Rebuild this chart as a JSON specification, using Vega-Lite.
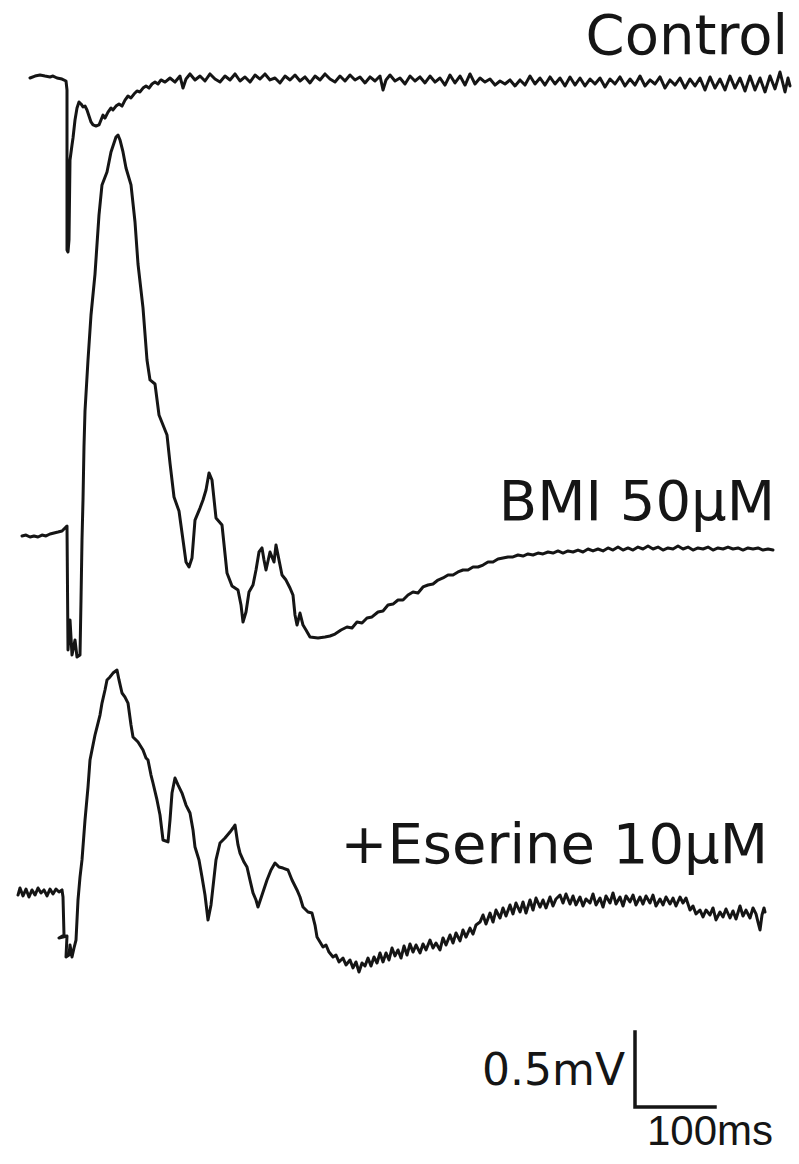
{
"$schema": "https://vega.github.io/schema/vega-lite/v6.json",
"width": 799, "height": 1164,
"autosize": {"type": "fit", "contains": "padding"},
"padding": 0,
"background": "white",
"config": {"view": {"stroke": null}},
"datasets": {
"traces": [
{"trace":"Control","ms":37.5,"mV":7.24},{"trace":"Control","ms":43.75,"mV":7.253},{"trace":"Control","ms":50,"mV":7.26},{"trace":"Control","ms":56.25,"mV":7.253},{"trace":"Control","ms":62.5,"mV":7.247},{"trace":"Control","ms":66.25,"mV":7.253},{"trace":"Control","ms":71.25,"mV":7.24},{"trace":"Control","ms":77.5,"mV":7.233},{"trace":"Control","ms":82.5,"mV":7.22},{"trace":"Control","ms":83.75,"mV":7.16},{"trace":"Control","ms":83.75,"mV":6.093},{"trace":"Control","ms":85,"mV":6.08},{"trace":"Control","ms":86.25,"mV":6.16},{"trace":"Control","ms":87.5,"mV":6.693},{"trace":"Control","ms":90,"mV":6.793},{"trace":"Control","ms":91.25,"mV":6.84},{"trace":"Control","ms":93.75,"mV":6.96},{"trace":"Control","ms":96.25,"mV":7.04},{"trace":"Control","ms":98.75,"mV":7.08},{"trace":"Control","ms":101.25,"mV":7.067},{"trace":"Control","ms":103.75,"mV":7.047},{"trace":"Control","ms":106.25,"mV":7.053},{"trace":"Control","ms":108.75,"mV":7.027},{"trace":"Control","ms":111.25,"mV":6.987},{"trace":"Control","ms":113.75,"mV":6.947},{"trace":"Control","ms":116.25,"mV":6.927},{"trace":"Control","ms":120,"mV":6.92},{"trace":"Control","ms":123.75,"mV":6.927},{"trace":"Control","ms":126.25,"mV":6.96},{"trace":"Control","ms":128.75,"mV":6.993},{"trace":"Control","ms":131.25,"mV":6.973},{"trace":"Control","ms":135,"mV":7.013},{"trace":"Control","ms":138.75,"mV":7.04},{"trace":"Control","ms":141.25,"mV":7.027},{"trace":"Control","ms":145,"mV":7.053},{"trace":"Control","ms":148.75,"mV":7.067},{"trace":"Control","ms":152.5,"mV":7.053},{"trace":"Control","ms":156.25,"mV":7.093},{"trace":"Control","ms":160,"mV":7.12},{"trace":"Control","ms":163.75,"mV":7.107},{"trace":"Control","ms":167.5,"mV":7.133},{"trace":"Control","ms":171.25,"mV":7.153},{"trace":"Control","ms":175,"mV":7.147},{"trace":"Control","ms":178.75,"mV":7.173},{"trace":"Control","ms":182.5,"mV":7.187},{"trace":"Control","ms":186.25,"mV":7.173},{"trace":"Control","ms":190,"mV":7.2},{"trace":"Control","ms":193.75,"mV":7.213},{"trace":"Control","ms":197.5,"mV":7.2},{"trace":"Control","ms":201.25,"mV":7.227},{"trace":"Control","ms":206.25,"mV":7.213},{"trace":"Control","ms":212.5,"mV":7.24},{"trace":"Control","ms":218.75,"mV":7.213},{"trace":"Control","ms":225,"mV":7.253},{"trace":"Control","ms":228.75,"mV":7.173},{"trace":"Control","ms":232.5,"mV":7.233},{"trace":"Control","ms":237.5,"mV":7.267},{"trace":"Control","ms":243.75,"mV":7.227},{"trace":"Control","ms":250,"mV":7.253},{"trace":"Control","ms":256.25,"mV":7.22},{"trace":"Control","ms":262.5,"mV":7.267},{"trace":"Control","ms":268.75,"mV":7.233},{"trace":"Control","ms":275,"mV":7.213},{"trace":"Control","ms":281.25,"mV":7.253},{"trace":"Control","ms":287.5,"mV":7.227},{"trace":"Control","ms":293.75,"mV":7.267},{"trace":"Control","ms":300,"mV":7.22},{"trace":"Control","ms":306.25,"mV":7.247},{"trace":"Control","ms":312.5,"mV":7.213},{"trace":"Control","ms":318.75,"mV":7.26},{"trace":"Control","ms":325,"mV":7.233},{"trace":"Control","ms":331.25,"mV":7.267},{"trace":"Control","ms":337.5,"mV":7.227},{"trace":"Control","ms":343.75,"mV":7.24},{"trace":"Control","ms":350,"mV":7.207},{"trace":"Control","ms":356.25,"mV":7.253},{"trace":"Control","ms":362.5,"mV":7.227},{"trace":"Control","ms":368.75,"mV":7.26},{"trace":"Control","ms":375,"mV":7.22},{"trace":"Control","ms":381.25,"mV":7.247},{"trace":"Control","ms":387.5,"mV":7.207},{"trace":"Control","ms":393.75,"mV":7.253},{"trace":"Control","ms":400,"mV":7.227},{"trace":"Control","ms":406.25,"mV":7.267},{"trace":"Control","ms":412.5,"mV":7.233},{"trace":"Control","ms":418.75,"mV":7.213},{"trace":"Control","ms":425,"mV":7.253},{"trace":"Control","ms":431.25,"mV":7.22},{"trace":"Control","ms":437.5,"mV":7.26},{"trace":"Control","ms":443.75,"mV":7.227},{"trace":"Control","ms":450,"mV":7.247},{"trace":"Control","ms":456.25,"mV":7.207},{"trace":"Control","ms":462.5,"mV":7.247},{"trace":"Control","ms":468.75,"mV":7.22},{"trace":"Control","ms":475,"mV":7.253},{"trace":"Control","ms":478.75,"mV":7.16},{"trace":"Control","ms":482.5,"mV":7.227},{"trace":"Control","ms":487.5,"mV":7.26},{"trace":"Control","ms":493.75,"mV":7.22},{"trace":"Control","ms":500,"mV":7.24},{"trace":"Control","ms":506.25,"mV":7.2},{"trace":"Control","ms":512.5,"mV":7.253},{"trace":"Control","ms":518.75,"mV":7.22},{"trace":"Control","ms":525,"mV":7.247},{"trace":"Control","ms":531.25,"mV":7.207},{"trace":"Control","ms":537.5,"mV":7.253},{"trace":"Control","ms":543.75,"mV":7.213},{"trace":"Control","ms":550,"mV":7.24},{"trace":"Control","ms":556.25,"mV":7.193},{"trace":"Control","ms":562.5,"mV":7.26},{"trace":"Control","ms":568.75,"mV":7.207},{"trace":"Control","ms":575,"mV":7.253},{"trace":"Control","ms":581.25,"mV":7.193},{"trace":"Control","ms":587.5,"mV":7.267},{"trace":"Control","ms":593.75,"mV":7.2},{"trace":"Control","ms":600,"mV":7.24},{"trace":"Control","ms":606.25,"mV":7.213},{"trace":"Control","ms":612.5,"mV":7.233},{"trace":"Control","ms":618.75,"mV":7.193},{"trace":"Control","ms":625,"mV":7.22},{"trace":"Control","ms":631.25,"mV":7.2},{"trace":"Control","ms":637.5,"mV":7.227},{"trace":"Control","ms":643.75,"mV":7.187},{"trace":"Control","ms":650,"mV":7.227},{"trace":"Control","ms":656.25,"mV":7.193},{"trace":"Control","ms":662.5,"mV":7.253},{"trace":"Control","ms":668.75,"mV":7.2},{"trace":"Control","ms":675,"mV":7.24},{"trace":"Control","ms":681.25,"mV":7.193},{"trace":"Control","ms":687.5,"mV":7.247},{"trace":"Control","ms":693.75,"mV":7.2},{"trace":"Control","ms":700,"mV":7.24},{"trace":"Control","ms":706.25,"mV":7.187},{"trace":"Control","ms":712.5,"mV":7.247},{"trace":"Control","ms":718.75,"mV":7.193},{"trace":"Control","ms":725,"mV":7.24},{"trace":"Control","ms":731.25,"mV":7.187},{"trace":"Control","ms":737.5,"mV":7.233},{"trace":"Control","ms":743.75,"mV":7.2},{"trace":"Control","ms":750,"mV":7.24},{"trace":"Control","ms":756.25,"mV":7.18},{"trace":"Control","ms":762.5,"mV":7.233},{"trace":"Control","ms":768.75,"mV":7.2},{"trace":"Control","ms":775,"mV":7.247},{"trace":"Control","ms":781.25,"mV":7.187},{"trace":"Control","ms":787.5,"mV":7.233},{"trace":"Control","ms":793.75,"mV":7.193},{"trace":"Control","ms":800,"mV":7.253},{"trace":"Control","ms":806.25,"mV":7.187},{"trace":"Control","ms":812.5,"mV":7.227},{"trace":"Control","ms":818.75,"mV":7.2},{"trace":"Control","ms":825,"mV":7.247},{"trace":"Control","ms":831.25,"mV":7.173},{"trace":"Control","ms":837.5,"mV":7.227},{"trace":"Control","ms":843.75,"mV":7.193},{"trace":"Control","ms":850,"mV":7.24},{"trace":"Control","ms":856.25,"mV":7.173},{"trace":"Control","ms":862.5,"mV":7.233},{"trace":"Control","ms":868.75,"mV":7.187},{"trace":"Control","ms":875,"mV":7.24},{"trace":"Control","ms":881.25,"mV":7.16},{"trace":"Control","ms":887.5,"mV":7.247},{"trace":"Control","ms":893.75,"mV":7.173},{"trace":"Control","ms":900,"mV":7.233},{"trace":"Control","ms":906.25,"mV":7.16},{"trace":"Control","ms":912.5,"mV":7.253},{"trace":"Control","ms":918.75,"mV":7.173},{"trace":"Control","ms":925,"mV":7.24},{"trace":"Control","ms":931.25,"mV":7.153},{"trace":"Control","ms":937.5,"mV":7.253},{"trace":"Control","ms":943.75,"mV":7.16},{"trace":"Control","ms":950,"mV":7.24},{"trace":"Control","ms":956.25,"mV":7.147},{"trace":"Control","ms":962.5,"mV":7.253},{"trace":"Control","ms":968.75,"mV":7.167},{"trace":"Control","ms":975,"mV":7.28},{"trace":"Control","ms":981.25,"mV":7.147},{"trace":"Control","ms":985,"mV":7.24},{"trace":"Control","ms":987.5,"mV":7.187},
{"trace":"BMI","ms":27.5,"mV":4.187},{"trace":"BMI","ms":32.5,"mV":4.193},{"trace":"BMI","ms":37.5,"mV":4.18},{"trace":"BMI","ms":42.5,"mV":4.187},{"trace":"BMI","ms":47.5,"mV":4.18},{"trace":"BMI","ms":52.5,"mV":4.193},{"trace":"BMI","ms":57.5,"mV":4.187},{"trace":"BMI","ms":62.5,"mV":4.2},{"trace":"BMI","ms":67.5,"mV":4.207},{"trace":"BMI","ms":72.5,"mV":4.213},{"trace":"BMI","ms":77.5,"mV":4.22},{"trace":"BMI","ms":82.5,"mV":4.247},{"trace":"BMI","ms":83.75,"mV":4.253},{"trace":"BMI","ms":85,"mV":3.427},{"trace":"BMI","ms":87.5,"mV":3.627},{"trace":"BMI","ms":90,"mV":3.393},{"trace":"BMI","ms":93.75,"mV":3.493},{"trace":"BMI","ms":96.25,"mV":3.38},{"trace":"BMI","ms":100,"mV":3.393},{"trace":"BMI","ms":101.25,"mV":3.76},{"trace":"BMI","ms":102.5,"mV":4.16},{"trace":"BMI","ms":103.75,"mV":4.427},{"trace":"BMI","ms":105,"mV":4.787},{"trace":"BMI","ms":106.25,"mV":5.02},{"trace":"BMI","ms":110,"mV":5.36},{"trace":"BMI","ms":113.75,"mV":5.66},{"trace":"BMI","ms":118.75,"mV":5.933},{"trace":"BMI","ms":123.75,"mV":6.327},{"trace":"BMI","ms":127.5,"mV":6.527},{"trace":"BMI","ms":133.75,"mV":6.613},{"trace":"BMI","ms":138.75,"mV":6.747},{"trace":"BMI","ms":145,"mV":6.847},{"trace":"BMI","ms":147.5,"mV":6.86},{"trace":"BMI","ms":150,"mV":6.827},{"trace":"BMI","ms":153.75,"mV":6.747},{"trace":"BMI","ms":157.5,"mV":6.64},{"trace":"BMI","ms":163.75,"mV":6.527},{"trace":"BMI","ms":168.75,"mV":6.28},{"trace":"BMI","ms":172.5,"mV":6.0},{"trace":"BMI","ms":178.75,"mV":5.707},{"trace":"BMI","ms":183.75,"mV":5.36},{"trace":"BMI","ms":187.5,"mV":5.227},{"trace":"BMI","ms":193.75,"mV":5.2},{"trace":"BMI","ms":198.75,"mV":4.993},{"trace":"BMI","ms":203.75,"mV":4.927},{"trace":"BMI","ms":208.75,"mV":4.86},{"trace":"BMI","ms":212.5,"mV":4.673},{"trace":"BMI","ms":217.5,"mV":4.447},{"trace":"BMI","ms":223.75,"mV":4.353},{"trace":"BMI","ms":228.75,"mV":4.16},{"trace":"BMI","ms":232.5,"mV":4.013},{"trace":"BMI","ms":236.25,"mV":3.98},{"trace":"BMI","ms":240,"mV":4.04},{"trace":"BMI","ms":243.75,"mV":4.293},{"trace":"BMI","ms":250,"mV":4.373},{"trace":"BMI","ms":253.75,"mV":4.427},{"trace":"BMI","ms":257.5,"mV":4.493},{"trace":"BMI","ms":261.25,"mV":4.607},{"trace":"BMI","ms":265,"mV":4.56},{"trace":"BMI","ms":270,"mV":4.307},{"trace":"BMI","ms":277.5,"mV":4.26},{"trace":"BMI","ms":283.75,"mV":3.94},{"trace":"BMI","ms":290,"mV":3.853},{"trace":"BMI","ms":297.5,"mV":3.827},{"trace":"BMI","ms":301.25,"mV":3.727},{"trace":"BMI","ms":303.75,"mV":3.613},{"trace":"BMI","ms":307.5,"mV":3.68},{"trace":"BMI","ms":311.25,"mV":3.813},{"trace":"BMI","ms":316.25,"mV":3.86},{"trace":"BMI","ms":320,"mV":3.96},{"trace":"BMI","ms":323.75,"mV":4.08},{"trace":"BMI","ms":327.5,"mV":4.107},{"trace":"BMI","ms":330,"mV":4.027},{"trace":"BMI","ms":332.5,"mV":3.96},{"trace":"BMI","ms":337.5,"mV":4.08},{"trace":"BMI","ms":342.5,"mV":4.013},{"trace":"BMI","ms":345,"mV":4.127},{"trace":"BMI","ms":348.75,"mV":4.027},{"trace":"BMI","ms":352.5,"mV":3.927},{"trace":"BMI","ms":357.5,"mV":3.893},{"trace":"BMI","ms":362.5,"mV":3.84},{"trace":"BMI","ms":366.25,"mV":3.793},{"trace":"BMI","ms":368.75,"mV":3.66},{"trace":"BMI","ms":371.25,"mV":3.593},{"trace":"BMI","ms":375,"mV":3.673},{"trace":"BMI","ms":378.75,"mV":3.593},{"trace":"BMI","ms":382.5,"mV":3.56},{"trace":"BMI","ms":387.5,"mV":3.513},{"trace":"BMI","ms":397.5,"mV":3.507},{"trace":"BMI","ms":406.25,"mV":3.513},{"trace":"BMI","ms":412.5,"mV":3.52},{"trace":"BMI","ms":418.75,"mV":3.533},{"trace":"BMI","ms":426.25,"mV":3.56},{"trace":"BMI","ms":433.75,"mV":3.58},{"trace":"BMI","ms":440,"mV":3.573},{"trace":"BMI","ms":446.25,"mV":3.613},{"trace":"BMI","ms":452.5,"mV":3.607},{"trace":"BMI","ms":458.75,"mV":3.64},{"trace":"BMI","ms":465,"mV":3.647},{"trace":"BMI","ms":472.5,"mV":3.68},{"trace":"BMI","ms":478.75,"mV":3.687},{"trace":"BMI","ms":485,"mV":3.727},{"trace":"BMI","ms":491.25,"mV":3.733},{"trace":"BMI","ms":497.5,"mV":3.76},{"trace":"BMI","ms":503.75,"mV":3.76},{"trace":"BMI","ms":510,"mV":3.793},{"trace":"BMI","ms":516.25,"mV":3.813},{"trace":"BMI","ms":522.5,"mV":3.807},{"trace":"BMI","ms":528.75,"mV":3.847},{"trace":"BMI","ms":535,"mV":3.86},{"trace":"BMI","ms":541.25,"mV":3.867},{"trace":"BMI","ms":547.5,"mV":3.893},{"trace":"BMI","ms":553.75,"mV":3.907},{"trace":"BMI","ms":560,"mV":3.927},{"trace":"BMI","ms":566.25,"mV":3.927},{"trace":"BMI","ms":572.5,"mV":3.947},{"trace":"BMI","ms":578.75,"mV":3.96},{"trace":"BMI","ms":585,"mV":3.96},{"trace":"BMI","ms":591.25,"mV":3.98},{"trace":"BMI","ms":597.5,"mV":3.98},{"trace":"BMI","ms":603.75,"mV":3.993},{"trace":"BMI","ms":610,"mV":4.013},{"trace":"BMI","ms":616.25,"mV":4.013},{"trace":"BMI","ms":622.5,"mV":4.033},{"trace":"BMI","ms":628.75,"mV":4.04},{"trace":"BMI","ms":635,"mV":4.047},{"trace":"BMI","ms":641.25,"mV":4.047},{"trace":"BMI","ms":647.5,"mV":4.06},{"trace":"BMI","ms":653.75,"mV":4.053},{"trace":"BMI","ms":660,"mV":4.067},{"trace":"BMI","ms":666.25,"mV":4.06},{"trace":"BMI","ms":672.5,"mV":4.073},{"trace":"BMI","ms":678.75,"mV":4.067},{"trace":"BMI","ms":685,"mV":4.08},{"trace":"BMI","ms":691.25,"mV":4.073},{"trace":"BMI","ms":697.5,"mV":4.087},{"trace":"BMI","ms":703.75,"mV":4.073},{"trace":"BMI","ms":710,"mV":4.087},{"trace":"BMI","ms":716.25,"mV":4.08},{"trace":"BMI","ms":722.5,"mV":4.093},{"trace":"BMI","ms":728.75,"mV":4.08},{"trace":"BMI","ms":735,"mV":4.1},{"trace":"BMI","ms":741.25,"mV":4.087},{"trace":"BMI","ms":747.5,"mV":4.1},{"trace":"BMI","ms":753.75,"mV":4.087},{"trace":"BMI","ms":760,"mV":4.107},{"trace":"BMI","ms":766.25,"mV":4.093},{"trace":"BMI","ms":772.5,"mV":4.113},{"trace":"BMI","ms":778.75,"mV":4.093},{"trace":"BMI","ms":785,"mV":4.107},{"trace":"BMI","ms":791.25,"mV":4.093},{"trace":"BMI","ms":797.5,"mV":4.113},{"trace":"BMI","ms":803.75,"mV":4.1},{"trace":"BMI","ms":810,"mV":4.12},{"trace":"BMI","ms":816.25,"mV":4.1},{"trace":"BMI","ms":822.5,"mV":4.113},{"trace":"BMI","ms":828.75,"mV":4.093},{"trace":"BMI","ms":835,"mV":4.107},{"trace":"BMI","ms":841.25,"mV":4.1},{"trace":"BMI","ms":847.5,"mV":4.12},{"trace":"BMI","ms":853.75,"mV":4.1},{"trace":"BMI","ms":860,"mV":4.113},{"trace":"BMI","ms":866.25,"mV":4.093},{"trace":"BMI","ms":872.5,"mV":4.107},{"trace":"BMI","ms":878.75,"mV":4.1},{"trace":"BMI","ms":885,"mV":4.113},{"trace":"BMI","ms":891.25,"mV":4.093},{"trace":"BMI","ms":897.5,"mV":4.107},{"trace":"BMI","ms":903.75,"mV":4.1},{"trace":"BMI","ms":910,"mV":4.113},{"trace":"BMI","ms":916.25,"mV":4.1},{"trace":"BMI","ms":922.5,"mV":4.107},{"trace":"BMI","ms":928.75,"mV":4.093},{"trace":"BMI","ms":935,"mV":4.107},{"trace":"BMI","ms":941.25,"mV":4.1},{"trace":"BMI","ms":947.5,"mV":4.107},{"trace":"BMI","ms":953.75,"mV":4.093},{"trace":"BMI","ms":960,"mV":4.1},{"trace":"BMI","ms":966.25,"mV":4.093},
{"trace":"Eserine","ms":22.5,"mV":1.793},{"trace":"Eserine","ms":25,"mV":1.84},{"trace":"Eserine","ms":28.75,"mV":1.787},{"trace":"Eserine","ms":32.5,"mV":1.833},{"trace":"Eserine","ms":36.25,"mV":1.78},{"trace":"Eserine","ms":40,"mV":1.827},{"trace":"Eserine","ms":43.75,"mV":1.793},{"trace":"Eserine","ms":47.5,"mV":1.84},{"trace":"Eserine","ms":51.25,"mV":1.807},{"trace":"Eserine","ms":55,"mV":1.827},{"trace":"Eserine","ms":58.75,"mV":1.787},{"trace":"Eserine","ms":62.5,"mV":1.833},{"trace":"Eserine","ms":66.25,"mV":1.8},{"trace":"Eserine","ms":70,"mV":1.833},{"trace":"Eserine","ms":73.75,"mV":1.813},{"trace":"Eserine","ms":77.5,"mV":1.827},{"trace":"Eserine","ms":78.75,"mV":1.78},{"trace":"Eserine","ms":80,"mV":1.527},{"trace":"Eserine","ms":73.75,"mV":1.507},{"trace":"Eserine","ms":83.75,"mV":1.52},{"trace":"Eserine","ms":82.5,"mV":1.38},{"trace":"Eserine","ms":86.25,"mV":1.393},{"trace":"Eserine","ms":87.5,"mV":1.46},{"trace":"Eserine","ms":90,"mV":1.38},{"trace":"Eserine","ms":92.5,"mV":1.44},{"trace":"Eserine","ms":95,"mV":1.493},{"trace":"Eserine","ms":97.5,"mV":1.76},{"trace":"Eserine","ms":100,"mV":1.913},{"trace":"Eserine","ms":102.5,"mV":2.027},{"trace":"Eserine","ms":106.25,"mV":2.293},{"trace":"Eserine","ms":110,"mV":2.513},{"trace":"Eserine","ms":112.5,"mV":2.693},{"trace":"Eserine","ms":115,"mV":2.76},{"trace":"Eserine","ms":118.75,"mV":2.86},{"trace":"Eserine","ms":121.25,"mV":2.913},{"trace":"Eserine","ms":125,"mV":2.993},{"trace":"Eserine","ms":127.5,"mV":3.073},{"trace":"Eserine","ms":131.25,"mV":3.16},{"trace":"Eserine","ms":133.75,"mV":3.227},{"trace":"Eserine","ms":137.5,"mV":3.247},{"trace":"Eserine","ms":141.25,"mV":3.273},{"trace":"Eserine","ms":146.25,"mV":3.293},{"trace":"Eserine","ms":148.75,"mV":3.227},{"trace":"Eserine","ms":152.5,"mV":3.14},{"trace":"Eserine","ms":156.25,"mV":3.113},{"trace":"Eserine","ms":160,"mV":3.073},{"trace":"Eserine","ms":163.75,"mV":2.927},{"trace":"Eserine","ms":166.25,"mV":2.847},{"trace":"Eserine","ms":172.5,"mV":2.813},{"trace":"Eserine","ms":178.75,"mV":2.76},{"trace":"Eserine","ms":182.5,"mV":2.707},{"trace":"Eserine","ms":185,"mV":2.693},{"trace":"Eserine","ms":188.75,"mV":2.593},{"trace":"Eserine","ms":191.25,"mV":2.54},{"trace":"Eserine","ms":196.25,"mV":2.427},{"trace":"Eserine","ms":200,"mV":2.327},{"trace":"Eserine","ms":203.75,"mV":2.16},{"trace":"Eserine","ms":210,"mV":2.147},{"trace":"Eserine","ms":212.5,"mV":2.293},{"trace":"Eserine","ms":215,"mV":2.473},{"trace":"Eserine","ms":218.75,"mV":2.573},{"trace":"Eserine","ms":222.5,"mV":2.527},{"trace":"Eserine","ms":227.5,"mV":2.473},{"trace":"Eserine","ms":232.5,"mV":2.393},{"trace":"Eserine","ms":237.5,"mV":2.34},{"trace":"Eserine","ms":241.25,"mV":2.227},{"trace":"Eserine","ms":243.75,"mV":2.113},{"trace":"Eserine","ms":248.75,"mV":2.027},{"trace":"Eserine","ms":252.5,"mV":1.913},{"trace":"Eserine","ms":256.25,"mV":1.793},{"trace":"Eserine","ms":260,"mV":1.627},{"trace":"Eserine","ms":263.75,"mV":1.727},{"trace":"Eserine","ms":266.25,"mV":1.847},{"trace":"Eserine","ms":270,"mV":2.027},{"trace":"Eserine","ms":275,"mV":2.14},{"trace":"Eserine","ms":281.25,"mV":2.173},{"trace":"Eserine","ms":287.5,"mV":2.213},{"trace":"Eserine","ms":291.25,"mV":2.24},{"trace":"Eserine","ms":293.75,"mV":2.26},{"trace":"Eserine","ms":297.5,"mV":2.127},{"trace":"Eserine","ms":300,"mV":2.073},{"trace":"Eserine","ms":305,"mV":2.013},{"trace":"Eserine","ms":308.75,"mV":1.98},{"trace":"Eserine","ms":312.5,"mV":1.893},{"trace":"Eserine","ms":316.25,"mV":1.807},{"trace":"Eserine","ms":320,"mV":1.76},{"trace":"Eserine","ms":322.5,"mV":1.713},{"trace":"Eserine","ms":327.5,"mV":1.793},{"trace":"Eserine","ms":333.75,"mV":1.893},{"trace":"Eserine","ms":338.75,"mV":1.96},{"trace":"Eserine","ms":343.75,"mV":2.007},{"trace":"Eserine","ms":348.75,"mV":1.98},{"trace":"Eserine","ms":353.75,"mV":1.973},{"trace":"Eserine","ms":360,"mV":1.96},{"trace":"Eserine","ms":365,"mV":1.893},{"trace":"Eserine","ms":371.25,"mV":1.827},{"trace":"Eserine","ms":375,"mV":1.78},{"trace":"Eserine","ms":378.75,"mV":1.713},{"trace":"Eserine","ms":385,"mV":1.68},{"trace":"Eserine","ms":390,"mV":1.673},{"trace":"Eserine","ms":393.75,"mV":1.593},{"trace":"Eserine","ms":396.25,"mV":1.513},{"trace":"Eserine","ms":400,"mV":1.48},{"trace":"Eserine","ms":403.75,"mV":1.447},{"trace":"Eserine","ms":407.5,"mV":1.46},{"trace":"Eserine","ms":411.25,"mV":1.413},{"trace":"Eserine","ms":416.25,"mV":1.38},{"trace":"Eserine","ms":420,"mV":1.393},{"trace":"Eserine","ms":423.75,"mV":1.347},{"trace":"Eserine","ms":428.75,"mV":1.373},{"trace":"Eserine","ms":432.5,"mV":1.327},{"trace":"Eserine","ms":437.5,"mV":1.36},{"trace":"Eserine","ms":441.25,"mV":1.307},{"trace":"Eserine","ms":445,"mV":1.347},{"trace":"Eserine","ms":448.75,"mV":1.28},{"trace":"Eserine","ms":452.5,"mV":1.34},{"trace":"Eserine","ms":456.25,"mV":1.32},{"trace":"Eserine","ms":460,"mV":1.373},{"trace":"Eserine","ms":463.75,"mV":1.32},{"trace":"Eserine","ms":467.5,"mV":1.38},{"trace":"Eserine","ms":471.25,"mV":1.34},{"trace":"Eserine","ms":475,"mV":1.407},{"trace":"Eserine","ms":478.75,"mV":1.347},{"trace":"Eserine","ms":482.5,"mV":1.407},{"trace":"Eserine","ms":486.25,"mV":1.36},{"trace":"Eserine","ms":490,"mV":1.44},{"trace":"Eserine","ms":493.75,"mV":1.387},{"trace":"Eserine","ms":497.5,"mV":1.427},{"trace":"Eserine","ms":501.25,"mV":1.373},{"trace":"Eserine","ms":505,"mV":1.453},{"trace":"Eserine","ms":508.75,"mV":1.393},{"trace":"Eserine","ms":512.5,"mV":1.467},{"trace":"Eserine","ms":516.25,"mV":1.413},{"trace":"Eserine","ms":520,"mV":1.46},{"trace":"Eserine","ms":525,"mV":1.407},{"trace":"Eserine","ms":528.75,"mV":1.467},{"trace":"Eserine","ms":532.5,"mV":1.427},{"trace":"Eserine","ms":537.5,"mV":1.493},{"trace":"Eserine","ms":541.25,"mV":1.44},{"trace":"Eserine","ms":545,"mV":1.473},{"trace":"Eserine","ms":550,"mV":1.427},{"trace":"Eserine","ms":553.75,"mV":1.507},{"trace":"Eserine","ms":557.5,"mV":1.46},{"trace":"Eserine","ms":562.5,"mV":1.527},{"trace":"Eserine","ms":566.25,"mV":1.473},{"trace":"Eserine","ms":570,"mV":1.54},{"trace":"Eserine","ms":575,"mV":1.487},{"trace":"Eserine","ms":578.75,"mV":1.56},{"trace":"Eserine","ms":582.5,"mV":1.513},{"trace":"Eserine","ms":587.5,"mV":1.573},{"trace":"Eserine","ms":591.25,"mV":1.533},{"trace":"Eserine","ms":595,"mV":1.593},{"trace":"Eserine","ms":600,"mV":1.613},{"trace":"Eserine","ms":603.75,"mV":1.66},{"trace":"Eserine","ms":607.5,"mV":1.6},{"trace":"Eserine","ms":612.5,"mV":1.673},{"trace":"Eserine","ms":616.25,"mV":1.613},{"trace":"Eserine","ms":620,"mV":1.693},{"trace":"Eserine","ms":625,"mV":1.64},{"trace":"Eserine","ms":628.75,"mV":1.707},{"trace":"Eserine","ms":632.5,"mV":1.653},{"trace":"Eserine","ms":637.5,"mV":1.727},{"trace":"Eserine","ms":641.25,"mV":1.667},{"trace":"Eserine","ms":645,"mV":1.74},{"trace":"Eserine","ms":650,"mV":1.68},{"trace":"Eserine","ms":653.75,"mV":1.747},{"trace":"Eserine","ms":657.5,"mV":1.673},{"trace":"Eserine","ms":662.5,"mV":1.76},{"trace":"Eserine","ms":666.25,"mV":1.693},{"trace":"Eserine","ms":670,"mV":1.773},{"trace":"Eserine","ms":675,"mV":1.713},{"trace":"Eserine","ms":678.75,"mV":1.76},{"trace":"Eserine","ms":682.5,"mV":1.707},{"trace":"Eserine","ms":687.5,"mV":1.78},{"trace":"Eserine","ms":691.25,"mV":1.72},{"trace":"Eserine","ms":695,"mV":1.767},{"trace":"Eserine","ms":700,"mV":1.793},{"trace":"Eserine","ms":703.75,"mV":1.74},{"trace":"Eserine","ms":707.5,"mV":1.8},{"trace":"Eserine","ms":712.5,"mV":1.733},{"trace":"Eserine","ms":716.25,"mV":1.787},{"trace":"Eserine","ms":720,"mV":1.727},{"trace":"Eserine","ms":725,"mV":1.78},{"trace":"Eserine","ms":728.75,"mV":1.72},{"trace":"Eserine","ms":732.5,"mV":1.767},{"trace":"Eserine","ms":737.5,"mV":1.74},{"trace":"Eserine","ms":741.25,"mV":1.8},{"trace":"Eserine","ms":745,"mV":1.727},{"trace":"Eserine","ms":750,"mV":1.773},{"trace":"Eserine","ms":753.75,"mV":1.713},{"trace":"Eserine","ms":757.5,"mV":1.787},{"trace":"Eserine","ms":762.5,"mV":1.74},{"trace":"Eserine","ms":766.25,"mV":1.807},{"trace":"Eserine","ms":770,"mV":1.733},{"trace":"Eserine","ms":775,"mV":1.78},{"trace":"Eserine","ms":778.75,"mV":1.72},{"trace":"Eserine","ms":782.5,"mV":1.787},{"trace":"Eserine","ms":787.5,"mV":1.747},{"trace":"Eserine","ms":791.25,"mV":1.793},{"trace":"Eserine","ms":795,"mV":1.727},{"trace":"Eserine","ms":800,"mV":1.78},{"trace":"Eserine","ms":803.75,"mV":1.733},{"trace":"Eserine","ms":807.5,"mV":1.787},{"trace":"Eserine","ms":812.5,"mV":1.74},{"trace":"Eserine","ms":816.25,"mV":1.793},{"trace":"Eserine","ms":820,"mV":1.72},{"trace":"Eserine","ms":825,"mV":1.767},{"trace":"Eserine","ms":828.75,"mV":1.727},{"trace":"Eserine","ms":832.5,"mV":1.78},{"trace":"Eserine","ms":837.5,"mV":1.733},{"trace":"Eserine","ms":841.25,"mV":1.773},{"trace":"Eserine","ms":845,"mV":1.72},{"trace":"Eserine","ms":850,"mV":1.78},{"trace":"Eserine","ms":853.75,"mV":1.74},{"trace":"Eserine","ms":857.5,"mV":1.773},{"trace":"Eserine","ms":862.5,"mV":1.693},{"trace":"Eserine","ms":866.25,"mV":1.72},{"trace":"Eserine","ms":870,"mV":1.667},{"trace":"Eserine","ms":875,"mV":1.693},{"trace":"Eserine","ms":878.75,"mV":1.647},{"trace":"Eserine","ms":882.5,"mV":1.693},{"trace":"Eserine","ms":887.5,"mV":1.66},{"trace":"Eserine","ms":891.25,"mV":1.707},{"trace":"Eserine","ms":895,"mV":1.627},{"trace":"Eserine","ms":900,"mV":1.68},{"trace":"Eserine","ms":903.75,"mV":1.647},{"trace":"Eserine","ms":907.5,"mV":1.7},{"trace":"Eserine","ms":912.5,"mV":1.64},{"trace":"Eserine","ms":916.25,"mV":1.687},{"trace":"Eserine","ms":920,"mV":1.633},{"trace":"Eserine","ms":925,"mV":1.72},{"trace":"Eserine","ms":928.75,"mV":1.653},{"trace":"Eserine","ms":932.5,"mV":1.693},{"trace":"Eserine","ms":937.5,"mV":1.64},{"trace":"Eserine","ms":941.25,"mV":1.707},{"trace":"Eserine","ms":945,"mV":1.667},{"trace":"Eserine","ms":947.5,"mV":1.613},{"trace":"Eserine","ms":950,"mV":1.56},{"trace":"Eserine","ms":952.5,"mV":1.66},{"trace":"Eserine","ms":955,"mV":1.707},{"trace":"Eserine","ms":956.25,"mV":1.68}
],
"scalebar": [
{"ms":793.75,"mV":0.88},{"ms":793.75,"mV":0.38},{"ms":893.75,"mV":0.38}
],
"titles": [
{"label":"Control","ms":985,"mV":7.4},
{"label":"BMI 50µM","ms":968.75,"mV":4.293},
{"label":"+Eserine 10µM","ms":960,"mV":2.007}
],
"vlabel": [{"label":"0.5mV","ms":781.25,"mV":0.527}],
"hlabel": [{"label":"100ms","ms":808.75,"mV":0.127}]
},
"encoding": {
"x": {"field":"ms","type":"quantitative","scale":{"domain":[0,998.75],"nice":false,"zero":false},"axis":null},
"y": {"field":"mV","type":"quantitative","scale":{"domain":[0,7.76],"nice":false,"zero":false},"axis":null}
},
"layer": [
{"data":{"name":"traces"},"mark":{"type":"line","color":"#151515","strokeWidth":3,"strokeJoin":"round","strokeCap":"round"},"encoding":{"detail":{"field":"trace"},"order":{"value":null}}},
{"data":{"name":"scalebar"},"mark":{"type":"line","color":"#151515","strokeWidth":3.5,"strokeJoin":"miter","strokeCap":"square"},"encoding":{"order":{"value":null}}},
{"data":{"name":"titles"},"mark":{"type":"text","align":"right","baseline":"alphabetic","font":"DejaVu Sans","fontSize":56,"color":"#151515"},"encoding":{"text":{"field":"label"}}},
{"data":{"name":"vlabel"},"mark":{"type":"text","align":"right","baseline":"alphabetic","font":"DejaVu Sans","fontSize":44,"color":"#151515"},"encoding":{"text":{"field":"label"}}},
{"data":{"name":"hlabel"},"mark":{"type":"text","align":"left","baseline":"alphabetic","font":"Liberation Sans","fontSize":42,"color":"#151515"},"encoding":{"text":{"field":"label"}}}
]
}
